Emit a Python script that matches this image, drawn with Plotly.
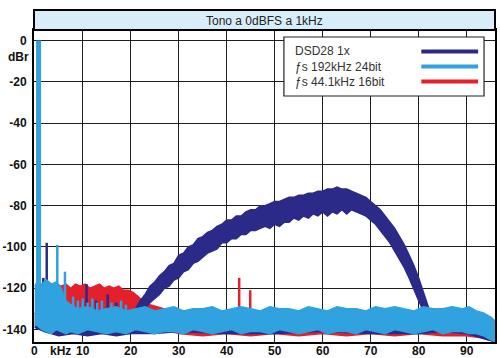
import plotly.graph_objects as go

# ---------------- data ----------------
x_ticks = [0, 10, 20, 30, 40, 50, 60, 70, 80, 90]
y_ticks = [0, -20, -40, -60, -80, -100, -120, -140]
y_ticktext = ["0", "-20", "-40", "-60", "-80", "-100", "-120", "-140"]

series_names = ["DSD28 1x", "\u0192s 192kHz 24bit", "\u0192s 44.1kHz 16bit"]

# DSD28 1x : noise-shaping hump (upper / lower envelope)
dsd_khz = [21, 22, 23, 24, 25, 26, 27, 28, 29, 30, 31, 32, 33, 34, 35, 36, 37, 38, 39,
           40, 41, 42, 43, 44, 45, 46, 47, 48, 49, 50, 51, 52, 53, 54, 55, 56, 57, 58,
           59, 60, 61, 62, 63, 64, 65, 66, 67, 68, 69, 70, 71, 72, 73, 74, 75, 76, 77,
           78, 79, 80, 81, 82]
dsd_hi = [-130, -126, -123, -119, -117, -114, -112, -109, -108, -104, -103, -100, -99,
          -96, -95, -93, -92, -90, -89, -87, -87, -85, -85, -83, -82, -82, -80, -80,
          -79, -78, -78, -77, -76, -76, -75, -75, -74, -74, -73, -73, -72, -72, -71,
          -72, -72, -73, -74, -75, -76, -78, -80, -82, -85, -88, -91, -95, -99, -104,
          -109, -115, -122, -129]
dsd_lo = [-133, -132, -130, -127, -125, -123, -120, -119, -116, -115, -112, -111, -108,
          -107, -105, -103, -102, -101, -98, -98, -96, -96, -94, -94, -92, -92, -91,
          -90, -91, -89, -90, -88, -88, -86, -87, -85, -86, -84, -85, -83, -85, -83,
          -84, -82, -84, -82, -83, -84, -85, -87, -89, -92, -95, -98, -102, -106, -110,
          -115, -120, -126, -131, -135]
# DSD28 1x : noise floor
dsd_floor_khz = [0, 2, 5, 8, 11, 14, 17, 20, 25, 30, 40, 50, 60, 70, 80, 85, 90, 93, 96]
dsd_floor_hi = [-132, -133, -134, -133, -134, -133, -134, -133, -134, -133, -134, -133,
                -134, -133, -134, -133, -134, -135, -137]
dsd_floor_lo = [-139, -141, -143, -142, -143, -142, -143, -142, -142, -141, -142, -142,
                -141, -142, -142, -141, -142, -144, -146]
dsd_spike_khz = [1.8, 2.5, 10.8, 12.8, 15.2, 17.0]
dsd_spike_top = [-115, -98, -118, -126, -123, -127]

# fs 192kHz 24bit : noise floor (upper / lower envelope)
hr_khz = [0, 0.5, 1.5, 2.5, 3.5, 4.5, 5.5, 6.5, 7.5, 9, 11, 13, 15, 17, 19, 21, 23, 25,
          27, 29, 31, 33, 35, 37, 39, 41, 43, 45, 47, 49, 51, 53, 55, 57, 59, 61, 63,
          65, 67, 69, 71, 73, 75, 77, 79, 81, 83, 85, 87, 89, 90.5, 92, 93.5, 95, 96]
hr_hi = [-119, -117, -118, -116, -118, -117, -120, -126, -128, -130, -129, -131, -130,
         -129, -131, -130, -129, -131, -130, -129, -131, -130, -130, -129, -131, -130,
         -129, -130, -131, -129, -130, -130, -131, -129, -130, -131, -129, -130, -130,
         -131, -129, -130, -129, -130, -131, -129, -130, -130, -129, -130, -129, -131,
         -132, -134, -136]
hr_lo = [-138, -138, -140, -141, -142, -140, -141, -142, -141, -142, -140, -141, -142,
         -141, -142, -140, -141, -142, -141, -141, -142, -140, -141, -142, -141, -140,
         -142, -141, -141, -142, -140, -141, -142, -141, -140, -142, -141, -141, -142,
         -140, -141, -142, -140, -141, -142, -141, -140, -142, -141, -141, -142, -142,
         -143, -145, -146]
hr_spike_khz = [0.8, 4.7, 6.3, 8.0, 9.0, 10.0, 11.0, 12.0, 13.0, 14.0, 16.0, 18.0, 19.0]
hr_spike_top = [0, -99, -112, -124, -126, -125, -127, -125, -127, -126, -127, -126, -128]

# fs 44.1kHz 16bit : dither noise up to 22 kHz + floor
cd_khz = [3.0, 3.5, 4.5, 5.5, 6.5, 7.5, 8.5, 9.5, 10.5, 11.5, 12.5, 13.5, 14.5, 15.5,
          16.5, 17.5, 18.5, 19.5, 20.5, 21.5, 22.5, 24.0, 25.5, 27.0, 28.5, 30.0,
          35, 40, 45, 50, 55, 60, 65, 70, 75, 80, 85, 90, 93, 96]
cd_hi = [-124, -119, -118, -119, -118, -120, -118, -119, -118, -120, -119, -118, -120,
         -119, -120, -119, -121, -121, -122, -124, -126, -128, -129, -130, -131, -131,
         -131, -132, -131, -132, -131, -132, -131, -132, -131, -132, -131, -132, -133, -136]
cd_lo = [-132, -131, -132, -131, -132, -131, -132, -131, -132, -131, -132, -131, -132,
         -131, -132, -131, -132, -131, -132, -133, -134, -136, -138, -140, -141, -142,
         -143, -142, -143, -142, -143, -142, -143, -142, -143, -142, -143, -143, -144, -146]
cd_spike_khz = [42.6, 44.9]
cd_spike_top = [-115, -121]

SPIKE_BASE = -132

# ---------------- styling ----------------
C_DSD = "#2b2a88"
C_HR = "#2fa2df"
C_CD = "#e3202b"
GRID = "#1e1e1e"
FONT_NARROW = "Liberation Sans Narrow, Liberation Sans, Arial"
TICK_FONT = dict(family=FONT_NARROW, size=12, color="#111111", weight="bold")
XTICK_FONT = dict(family=FONT_NARROW, size=12, color="#111111", weight="bold")


def band(khz, hi, lo, color, name):
    return go.Scatter(x=list(khz) + list(khz)[::-1], y=list(hi) + list(lo)[::-1],
                      fill="toself", fillcolor=color, mode="lines",
                      line=dict(color=color, width=1.5), name=name,
                      showlegend=False, hoverinfo="skip")


def spikes(khz, tops, color, width, name):
    xs, ys = [], []
    for f, t in zip(khz, tops):
        xs += [f, f, None]
        ys += [SPIKE_BASE, t, None]
    return go.Scatter(x=xs, y=ys, mode="lines", line=dict(color=color, width=width),
                      name=name, showlegend=False, hoverinfo="skip")


fig = go.Figure()
# red (bottom layer)
fig.add_trace(band(cd_khz, cd_hi, cd_lo, C_CD, series_names[2]))
fig.add_trace(spikes(cd_spike_khz, cd_spike_top, C_CD, 2.5, series_names[2]))
# dark navy
fig.add_trace(band(dsd_floor_khz, dsd_floor_hi, dsd_floor_lo, C_DSD, series_names[0]))
fig.add_trace(spikes(dsd_spike_khz, dsd_spike_top, C_DSD, 2.5, series_names[0]))
fig.add_trace(band(dsd_khz, dsd_hi, dsd_lo, C_DSD, series_names[0]))
# light blue on top
fig.add_trace(band(hr_khz, hr_hi, hr_lo, C_HR, series_names[1]))
fig.add_trace(spikes(hr_spike_khz[:1], hr_spike_top[:1], C_HR, 5, series_names[1]))
fig.add_trace(spikes(hr_spike_khz[1:], hr_spike_top[1:], C_HR, 2.5, series_names[1]))

# plot area in pixels: x 34..497, y 30..342 ; title band y 10..30
PB = 342.0
PH = 312.0
PW = 463.0


def px(xp):
    return (xp - 34) / PW


def py(yp):
    return (PB - yp) / PH


shapes = [
    # title band
    dict(type="rect", xref="paper", yref="paper", x0=0, x1=1, y0=1, y1=py(10),
         fillcolor="#d7edfa", line=dict(color="black", width=2), layer="above"),
    # legend box
    dict(type="rect", xref="paper", yref="paper", x0=px(285), x1=px(486),
         y0=py(96), y1=py(37), fillcolor="white", line=dict(color="#222", width=1.2),
         layer="above"),
]
legend_colors = [C_DSD, C_HR, C_CD]
legend_rows = [51.5, 66.5, 81.5]
annotations = [
    dict(text="Tono a 0dBFS a 1kHz", xref="paper", yref="paper", x=0.5, y=py(20.5),
         showarrow=False, xanchor="center", yanchor="middle",
         font=dict(family=FONT_NARROW, size=12, color="#222")),
    dict(text="dBr", xref="paper", yref="y", x=0, y=-8, xanchor="right", xshift=-3,
         showarrow=False, font=TICK_FONT),
]
# x tick labels (as annotations so they fit inside the short bottom margin)
for v, lab in zip(x_ticks + [5.3], [str(t) for t in x_ticks] + ["kHz"]):
    annotations.append(dict(text=lab, xref="x", yref="paper", x=v, y=0,
                            yanchor="top", xanchor="center", yshift=-1, borderpad=0,
                            showarrow=False, font=XTICK_FONT))
for name, col, ry in zip(series_names, legend_colors, legend_rows):
    shapes.append(dict(type="line", xref="paper", yref="paper", x0=px(423), x1=px(480),
                       y0=py(ry), y1=py(ry), line=dict(color=col, width=4),
                       layer="above"))
    annotations.append(dict(text=name, xref="paper", yref="paper", x=px(294), y=py(ry),
                            xanchor="left", yanchor="middle", showarrow=False,
                            font=dict(family="Liberation Sans, Arial", size=12,
                                      color="#333")))

fig.update_layout(
    width=500, height=358,
    margin=dict(l=34, r=3, t=30, b=16),
    paper_bgcolor="white", plot_bgcolor="white",
    showlegend=False,
    shapes=shapes, annotations=annotations,
    xaxis=dict(range=[-0.15, 95.9], tickvals=x_ticks, showticklabels=False,
               showgrid=True, gridcolor=GRID, gridwidth=1.3, zeroline=False,
               showline=True, mirror=True, linecolor="black", linewidth=2,
               ticks=""),
    yaxis=dict(range=[-146.06, 5.08], tickvals=y_ticks, ticktext=y_ticktext,
               showgrid=True, gridcolor=GRID, gridwidth=1.3, zeroline=False,
               showline=True, mirror=True, linecolor="black", linewidth=2,
               ticks="", tickfont=TICK_FONT, ticklabelstandoff=3),
)

fig.write_html("out.html", config={"displayModeBar": False},
               post_script="document.body.style.margin='0';")
